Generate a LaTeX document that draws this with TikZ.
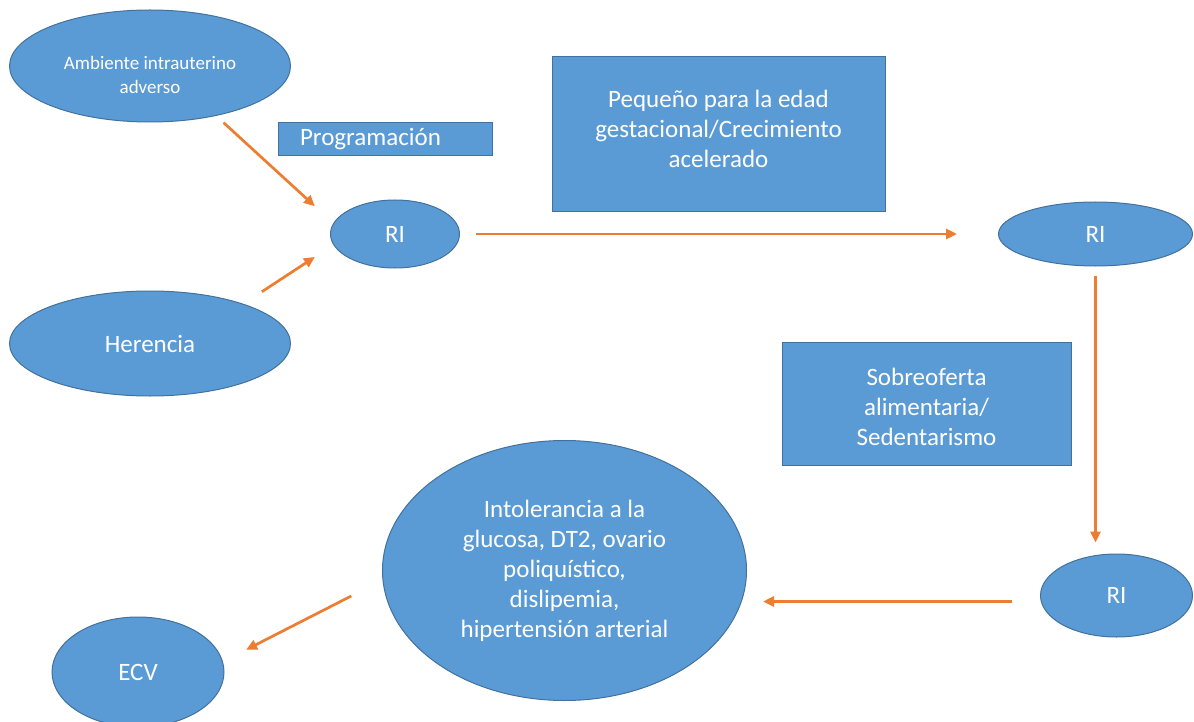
\documentclass[tikz,border=0pt]{standalone}
\usepackage{fontspec}
\setmainfont{Carlito}
\usetikzlibrary{arrows.meta, positioning, shapes.geometric}
\definecolor{boxblue}{HTML}{5B9BD5}
\definecolor{boxedge}{HTML}{41719C}
\definecolor{arroworange}{HTML}{ED7D31}

\begin{document}
\begin{tikzpicture}[x=1pt, y=1pt,
        oval/.style={ellipse, draw=boxedge, line width=1pt, fill=boxblue, text=white, inner sep=0pt, align=center, font=\fontsize{25}{30}\selectfont},
        box/.style={rectangle, draw=boxedge, line width=1pt, fill=boxblue, text=white, inner sep=0pt, align=center, font=\fontsize{25}{30}\selectfont},
        arrow/.style={-{Triangle[length=11pt, width=10pt]}, line width=2.7pt, draw=arroworange, fill=arroworange}
    ]
    \useasboundingbox (0,0) rectangle (1194,-722);
    % Nodes
    \node[oval, minimum width=281pt, minimum height=112pt, font=\fontsize{19}{24}\selectfont] (amb) at (150,-66) {\rule{0pt}{32pt}Ambiente intrauterino\\adverso};
    \node[oval, minimum width=281pt, minimum height=105pt, below=168pt of amb] (her) {Herencia};
    \node[oval, minimum width=129pt, minimum height=68pt] (ri1) at (395,-234) {RI};
    \node[box, minimum height=33pt, text width=170pt, inner xsep=22pt, align=left, above=43pt of ri1, xshift=-10pt] (prog) {Programación};
    \node[box, minimum width=333pt, minimum height=155pt, right=59pt of prog, yshift=5pt] (peq) {Pequeño para la edad\\gestacional/Crecimiento\\acelerado\rule[-12pt]{0pt}{0pt}};
    \node[oval, minimum width=194pt, minimum height=64pt, right=538pt of ri1] (ri2) {RI};
    \node[box, minimum width=289pt, minimum height=123pt] (sob) at (926.5,-403.5) {\rule{0pt}{25pt}Sobreoferta\\alimentaria/\\Sedentarismo};
    \node[oval, minimum width=152pt, minimum height=83pt, below=287pt of ri2, xshift=21pt] (ri3) {RI};
    \node[oval, minimum width=364pt, minimum height=260pt, left=293pt of ri3, yshift=25pt] (sind) {Intolerancia a la\\glucosa, DT2, ovario\\poliquístico,\\dislipemia,\\hipertensión arterial};
    \node[oval, minimum width=172pt, minimum height=110pt] (ecv) at (138,-672) {ECV};

    % Arrows
    \draw[arrow, shorten <=10pt, shorten >=25pt] (amb.-37) -- (ri1.170);
    \draw[arrow, shorten <=22pt, shorten >=22pt] (her.23) -- (ri1.190);
    \draw[arrow, shorten <=16pt, shorten >=41pt] (ri1) -- (ri2);
    \draw[arrow, shorten <=9pt, shorten >=11pt] (ri2.south) -- (ri2.south |- ri3.north);
    \draw[arrow, line width=3.6pt, shorten <=28pt, shorten >=16pt] ([yshift=-6pt]ri3.west) -- ([yshift=-6pt]ri3.west -| sind.east);
    \draw[arrow, shorten <=35pt, shorten >=26pt] (sind.183) -- (ecv.7);
\end{tikzpicture}
\end{document}
